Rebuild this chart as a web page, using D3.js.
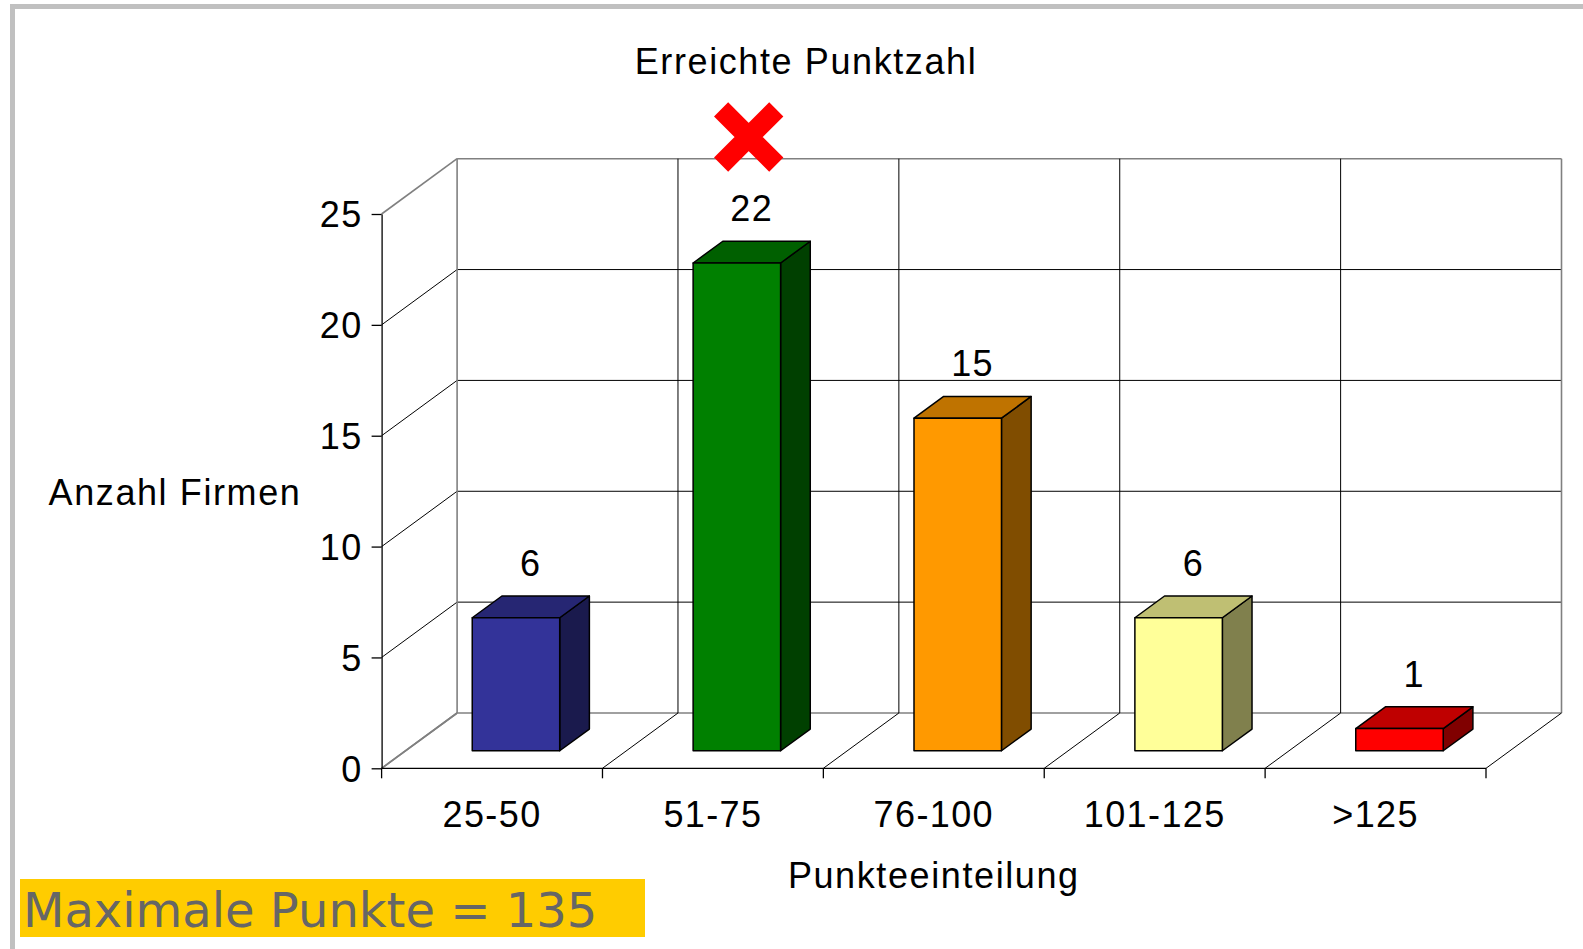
<!DOCTYPE html>
<html>
<head>
<meta charset="utf-8">
<script src="https://cdn.jsdelivr.net/npm/d3@7"></script>
<style>
    body { margin: 0; background: #fff; }
    svg { display: block; }
    text { font-family: "Liberation Sans", Arial, sans-serif; }
    text.note { font-family: "DejaVu Sans", Verdana, sans-serif; }
</style>
</head>
<body>
<svg></svg>
<script>
// Data
const categories = ["25-50", "51-75", "76-100", "101-125", ">125"];
const counts = [6, 22, 15, 6, 1];
const barColors = ["#333399", "#008000", "#ff9900", "#ffff99", "#ff0000"];
const yTicks = [0, 5, 10, 15, 20, 25];
const markedCategory = "51-75";

// Size
const width = 1583;
const height = 949;
const frontLeft = 381.6, frontRight = 1486;
const floorY = 768.3, topY = 214;
const DX = 75.5, DY = 55.3;          // depth of the 3D box
const zFront = 0.317, zBack = 0.71;  // bar depth position
const barFrac = 0.396;               // bar width relative to band

const svg = d3.select("svg")
    .attr("width", width)
    .attr("height", height);

// Frame
svg.append("rect").attr("x", 10).attr("y", 4).attr("width", width - 10).attr("height", 5).attr("fill", "#c0c0c0");
svg.append("rect").attr("x", 10).attr("y", 4).attr("width", 5).attr("height", height - 4).attr("fill", "#c0c0c0");

// Scales
const x = d3.scaleBand()
    .domain(categories)
    .range([frontLeft, frontRight])
    .padding(0);

const y = d3.scaleLinear()
    .domain([0, 25])
    .range([floorY, topY]);

const bounds = categories.map(c => x(c)).concat([frontRight]);
const grid = svg.append("g").attr("class", "walls");

// Back wall horizontal lines + left wall diagonals
yTicks.forEach((v, i) => {
    const edge = i === 0 || i === yTicks.length - 1;
    grid.append("line")
        .attr("x1", frontLeft + DX).attr("x2", frontRight + DX)
        .attr("y1", y(v) - DY).attr("y2", y(v) - DY)
        .attr("stroke", edge ? "#808080" : "#000")
        .attr("stroke-width", edge ? 1.6 : 1);
    grid.append("line")
        .attr("x1", frontLeft).attr("x2", frontLeft + DX)
        .attr("y1", y(v)).attr("y2", y(v) - DY)
        .attr("stroke", edge ? "#808080" : "#000")
        .attr("stroke-width", edge ? 1.6 : 1);
});

// Back wall verticals + floor diagonals
bounds.forEach((b, i) => {
    const edge = i === 0 || i === bounds.length - 1;
    grid.append("line")
        .attr("x1", b + DX).attr("x2", b + DX)
        .attr("y1", y(0) - DY).attr("y2", y(25) - DY)
        .attr("stroke", edge ? "#808080" : "#000")
        .attr("stroke-width", edge ? 1.6 : 1);
    grid.append("line")
        .attr("x1", b).attr("x2", b + DX)
        .attr("y1", y(0)).attr("y2", y(0) - DY)
        .attr("stroke", i === 0 ? "#808080" : "#000")
        .attr("stroke-width", i === 0 ? 1.6 : 1);
});

// Bars as 3D boxes
const shade = (c, k) => {
    const r = d3.rgb(c);
    return d3.rgb(r.r * k, r.g * k, r.b * k).formatHex();
};

const bars = svg.append("g").attr("class", "bars")
    .selectAll("g")
    .data(categories.map((c, i) => ({ name: c, count: counts[i], color: barColors[i] })))
    .enter().append("g");

function geom(d) {
    const bw = x.bandwidth() * barFrac;
    const x0 = x(d.name) + (x.bandwidth() - bw) / 2 + zFront * DX;
    const x1 = x0 + bw;
    const yb = y(0) - zFront * DY;
    const yt = y(d.count) - zFront * DY;
    const ddx = (zBack - zFront) * DX, ddy = (zBack - zFront) * DY;
    return { x0, x1, yb, yt, ddx, ddy };
}

bars.append("path")
    .attr("d", d => {
        const g = geom(d);
        return `M${g.x1},${g.yb}L${g.x1 + g.ddx},${g.yb - g.ddy}L${g.x1 + g.ddx},${g.yt - g.ddy}L${g.x1},${g.yt}Z`;
    })
    .attr("fill", d => shade(d.color, 0.5));

bars.append("path")
    .attr("d", d => {
        const g = geom(d);
        return `M${g.x0},${g.yt}L${g.x0 + g.ddx},${g.yt - g.ddy}L${g.x1 + g.ddx},${g.yt - g.ddy}L${g.x1},${g.yt}Z`;
    })
    .attr("fill", d => shade(d.color, 0.75));

bars.append("rect")
    .attr("x", d => geom(d).x0)
    .attr("y", d => geom(d).yt)
    .attr("width", d => geom(d).x1 - geom(d).x0)
    .attr("height", d => geom(d).yb - geom(d).yt)
    .attr("fill", d => d.color);

bars.selectAll("path, rect")
    .attr("stroke", "#000")
    .attr("stroke-width", 1.5)
    .attr("stroke-linejoin", "round");

// Value labels
bars.append("text")
    .attr("x", d => x(d.name) + x.bandwidth() / 2 + (zFront + zBack) / 2 * DX)
    .attr("y", d => y(d.count) - zBack * DY - 20)
    .attr("text-anchor", "middle")
    .attr("font-size", 36)
    .attr("letter-spacing", 1.4)
    .text(d => d.count);

// Y axis
const yAxis = svg.append("g")
    .attr("transform", `translate(${frontLeft},0)`)
    .call(d3.axisLeft(y)
        .tickValues(yTicks)
        .tickSize(10)
        .tickPadding(9)
        .tickSizeOuter(0));
yAxis.select(".domain").attr("stroke", "#000").attr("stroke-width", 1.3);
yAxis.selectAll(".tick line").attr("stroke", "#000").attr("stroke-width", 1.3);
yAxis.selectAll("text")
    .attr("font-size", 36)
    .attr("letter-spacing", 1.4)
    .attr("dy", "0.36em")
    .attr("fill", "#000");

// X axis: front floor line, boundary ticks and labels
svg.append("line")
    .attr("x1", frontLeft).attr("x2", frontRight)
    .attr("y1", y(0)).attr("y2", y(0))
    .attr("stroke", "#000").attr("stroke-width", 1.3);
svg.append("g").selectAll("line")
    .data(bounds)
    .enter().append("line")
    .attr("x1", d => d).attr("x2", d => d)
    .attr("y1", y(0)).attr("y2", y(0) + 10)
    .attr("stroke", "#000").attr("stroke-width", 1.3);

const xAxis = svg.append("g")
    .attr("transform", `translate(0,${y(0)})`)
    .call(d3.axisBottom(x).tickSize(0).tickPadding(33));
xAxis.select(".domain").remove();
xAxis.selectAll("text")
    .attr("font-size", 36)
    .attr("letter-spacing", 1.4)
    .attr("fill", "#000");

// Titles
svg.append("text")
    .attr("x", 806).attr("y", 73.5)
    .attr("text-anchor", "middle")
    .attr("font-size", 36)
    .attr("letter-spacing", 1.6)
    .text("Erreichte Punktzahl");

svg.append("text")
    .attr("x", 175).attr("y", 505)
    .attr("text-anchor", "middle")
    .attr("font-size", 36)
    .attr("letter-spacing", 1.6)
    .text("Anzahl Firmen");

svg.append("text")
    .attr("x", (frontLeft + frontRight) / 2).attr("y", 888)
    .attr("text-anchor", "middle")
    .attr("font-size", 36)
    .attr("letter-spacing", 1.6)
    .text("Punkteeinteilung");

// Red cross above the marked category
const cx = x(markedCategory) + x.bandwidth() / 2 + (zFront + zBack) / 2 * DX - 3;
const cy = 137, arm = 27.6;
svg.append("path")
    .attr("d", `M${cx - arm},${cy - arm}L${cx + arm},${cy + arm}M${cx - arm},${cy + arm}L${cx + arm},${cy - arm}`)
    .attr("stroke", "#ff0000")
    .attr("stroke-width", 20)
    .attr("stroke-linecap", "butt")
    .attr("fill", "none");

// Note box
svg.append("rect")
    .attr("x", 20).attr("y", 879)
    .attr("width", 625).attr("height", 58)
    .attr("fill", "#ffcc00");
svg.append("text")
    .attr("class", "note")
    .attr("x", 23).attr("y", 927)
    .attr("font-size", 48)
    .attr("fill", "#666666")
    .text("Maximale Punkte = 135");
</script>
</body>
</html>
